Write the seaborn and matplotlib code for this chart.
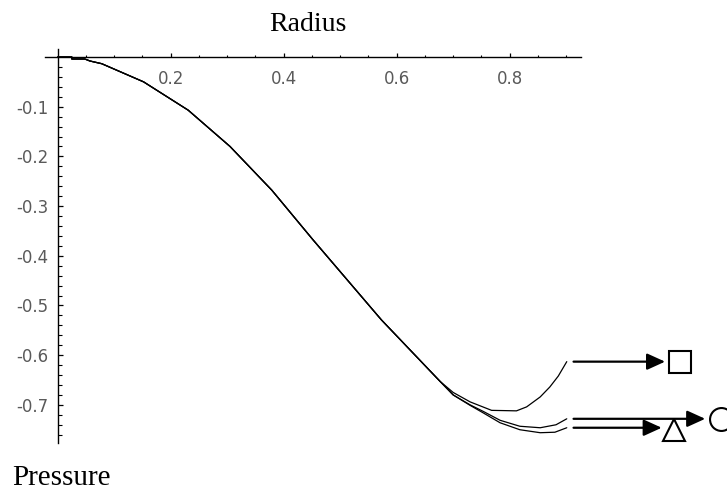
import matplotlib
matplotlib.use("Agg")
import matplotlib.pyplot as plt
import seaborn as sns
import pandas as pd
import numpy as np

# ---- data ----
radius_shared = [0.0, 0.025, 0.025, 0.048, 0.057, 0.078, 0.152, 0.231, 0.305,
                 0.379, 0.452, 0.573, 0.677]
pressure_shared = [0.0, 0.0, -0.004, -0.004, -0.008, -0.0135, -0.050, -0.107,
                   -0.180, -0.268, -0.368, -0.529, -0.653]

radius_square = [0.700, 0.730, 0.768, 0.812, 0.830, 0.854, 0.871, 0.886, 0.901]
pressure_square = [-0.675, -0.694, -0.711, -0.712, -0.704, -0.684, -0.664, -0.642, -0.613]

radius_circle = [0.700, 0.730, 0.753, 0.783, 0.818, 0.854, 0.882, 0.901]
pressure_circle = [-0.680, -0.700, -0.713, -0.731, -0.743, -0.746, -0.740, -0.728]

radius_triangle = [0.700, 0.730, 0.753, 0.783, 0.818, 0.854, 0.880, 0.901]
pressure_triangle = [-0.680, -0.701, -0.716, -0.736, -0.750, -0.756, -0.755, -0.746]

series_names = ["square", "circle", "triangle"]
series_markers = ["s", "o", "^"]
arrow_tips = [1.075, 1.146, 1.069]      # x where arrow heads end
marker_x = [1.101, 1.174, 1.091]        # marker centres

x_major = [0.2, 0.4, 0.6, 0.8]
x_major_labels = ["0.2", "0.4", "0.6", "0.8"]
y_major = [-0.1, -0.2, -0.3, -0.4, -0.5, -0.6, -0.7]
y_major_labels = ["-0.1", "-0.2", "-0.3", "-0.4", "-0.5", "-0.6", "-0.7"]
x_label = "Radius"
y_label = "Pressure"

# ---- build long table ----
rows = []
tails = {"square": (radius_square, pressure_square),
         "circle": (radius_circle, pressure_circle),
         "triangle": (radius_triangle, pressure_triangle)}
for name in series_names:
    rx = radius_shared + tails[name][0]
    py = pressure_shared + tails[name][1]
    for i, (a, b) in enumerate(zip(rx, py)):
        rows.append({"Radius": a, "Pressure": b, "series": name, "order": i})
df = pd.DataFrame(rows)

sns.set_style("white")
plt.rcParams["font.family"] = ["DejaVu Sans"]

fig = plt.figure(figsize=(7.27, 4.93), dpi=100)
ax = fig.add_axes([0, 0, 1, 1])

sns.lineplot(data=df, x="Radius", y="Pressure", hue="series",
             palette=["black"] * 3, sort=False, estimator=None,
             legend=False, linewidth=0.9, ax=ax)

ax.set_xlim(-0.1021, 1.1846)
ax.set_ylim(-0.8773, 0.1147)
ax.set_facecolor("white")
ax.set_xlabel("")
ax.set_ylabel("")

for s in ["top", "right"]:
    ax.spines[s].set_visible(False)
ax.spines["left"].set_position(("data", 0))
ax.spines["bottom"].set_position(("data", 0))
ax.spines["left"].set_bounds(-0.777, 0.016)
ax.spines["bottom"].set_bounds(-0.022, 0.926)
for s in ["left", "bottom"]:
    ax.spines[s].set_color("black")
    ax.spines[s].set_linewidth(1.0)

ax.set_xticks(x_major)
ax.set_xticklabels(x_major_labels)
ax.set_xticks(np.arange(0.05, 0.91, 0.05), minor=True)
ax.set_yticks(y_major)
ax.set_yticklabels(y_major_labels)
ax.set_yticks(np.arange(-0.76, -0.01, 0.02), minor=True)

ax.tick_params(which="both", bottom=True, left=True, top=False, right=False,
               direction="in", color="black")
ax.tick_params(axis="x", which="major", length=3.2, width=0.9, pad=9.5)
ax.tick_params(axis="x", which="minor", length=1.8, width=0.8)
ax.tick_params(axis="y", which="major", length=3.6, width=0.9, pad=6.5)
ax.tick_params(axis="y", which="minor", length=3.0, width=0.8)
for lab in ax.get_xticklabels() + ax.get_yticklabels():
    lab.set_fontfamily("DejaVu Sans")
    lab.set_fontsize(12)
    lab.set_color("#5a5a5a")

fig.text(0.423, 1 - 31 / 493, x_label, ha="center", va="baseline",
         fontsize=20, family="Liberation Serif", color="black")
fig.text(12 / 727, 1 - 485 / 493, y_label, ha="left", va="baseline",
         fontsize=21, family="Liberation Serif", color="black")

# ---- arrows and markers ----
ends = {"square": (radius_square[-1], pressure_square[-1]),
        "circle": (radius_circle[-1], pressure_circle[-1]),
        "triangle": (radius_triangle[-1], pressure_triangle[-1])}
for name, mk, tip, mx in zip(series_names, series_markers, arrow_tips, marker_x):
    ex, ey = ends[name]
    ax.annotate("", xy=(tip, ey), xytext=(ex + 0.012, ey),
                arrowprops=dict(arrowstyle="-|>,head_length=1.1,head_width=0.5",
                                mutation_scale=10, lw=1.6, color="black",
                                shrinkA=0, shrinkB=0), annotation_clip=False)
    my = ey - 0.005 if mk == "^" else ey
    ax.plot([mx], [my], marker=mk, markersize=16.5, markerfacecolor="white",
            markeredgecolor="black", markeredgewidth=1.5, clip_on=False,
            linestyle="none")

fig.savefig("out.png", dpi=100)
